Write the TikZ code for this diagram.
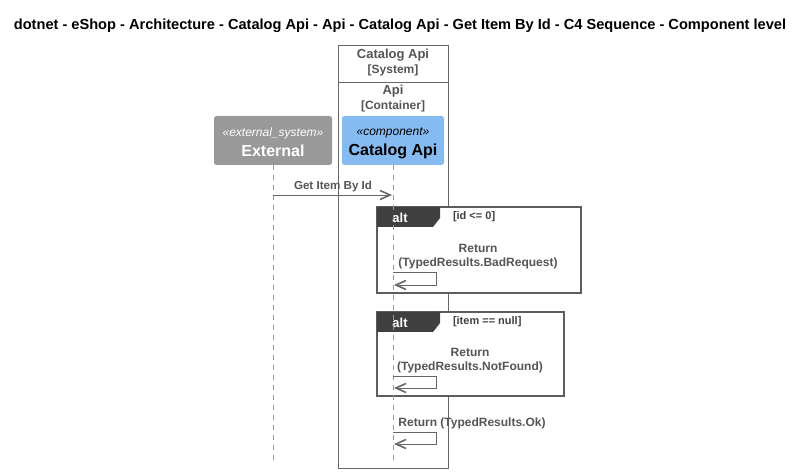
\documentclass[tikz,border=0pt]{standalone}
\usepackage{fontspec}
\setmainfont{Liberation Sans}
\usetikzlibrary{arrows.meta}
\definecolor{txtgray}{HTML}{555555}
\definecolor{linegray}{HTML}{666666}
\definecolor{boxgray}{HTML}{999999}
\definecolor{compblue}{HTML}{85BBF0}
\definecolor{tabdark}{HTML}{404040}
\tikzset{
  every node/.style={inner sep=0pt, outer sep=0pt},
  lbl/.style={text=txtgray, font=\fontsize{12}{14}\selectfont\bfseries, align=center},
  lifeline/.style={draw=boxgray, dash pattern=on 5pt off 5pt, line width=0.7pt},
  msg/.style={draw=linegray, line width=0.9pt, -{Straight Barb[length=10pt,width=9pt,line width=1.6pt]}},
  frame/.style={draw=tabdark!85, fill=white, line width=1.1pt},
  tabbox/.style={fill=tabdark, draw=none, anchor=north west, minimum width=56pt, minimum height=20pt},
  tabtext/.style={text=white, font=\fontsize{13}{15}\selectfont\bfseries},
  guard/.style={text=tabdark, font=\fontsize{11}{13}\selectfont\bfseries, anchor=west},
  participant/.style={rounded corners=2.5pt, draw=none, minimum height=49pt}
}
\begin{document}
\begin{tikzpicture}[x=1pt,y=-1pt]
\useasboundingbox (0,0) rectangle (804,473);
\fill[white] (0,0) rectangle (804,473);
% title
\node (title) at (400,26) {\fontsize{14.6}{16}\selectfont\bfseries dotnet - eShop - Architecture - Catalog Api - Api - Catalog Api - Get Item By Id - C4 Sequence - Component level};
% system boundary
\draw[draw=linegray, line width=0.8pt] (338,45) rectangle (448,468);
\draw[draw=linegray, line width=0.8pt] (338,82) -- (448,82);
\node[lbl, font=\fontsize{13}{15}\selectfont\bfseries] (sysname) at (393,55) {Catalog Api};
\node[lbl] (systype) at (393,70) {[System]};
\node[lbl, font=\fontsize{13}{15}\selectfont\bfseries] (contname) at (393,91) {Api};
\node[lbl] (conttype) at (393,106) {[Container]};
% participants
\node[participant, fill=boxgray, minimum width=118pt] (ext) at (273,140.5) {};
\node[text=white, font=\fontsize{12}{14}\selectfont\itshape] (extst) at (273,133) {«external\_system»};
\node[text=white, font=\fontsize{16}{18}\selectfont\bfseries] (extname) at (273,151) {External};
\node[participant, fill=compblue, minimum width=102pt] (cat) at (393,140.5) {};
\node[text=black, font=\fontsize{12}{14}\selectfont\itshape] (catst) at (393,133) {«component»};
\node[text=black, font=\fontsize{16}{18}\selectfont\bfseries] (catname) at (393,151) {Catalog Api};
% lifeline ends
\coordinate (extend) at (273,462);
\coordinate (catend) at (393,462);
\draw[lifeline] (ext.south) -- (extend);
% alt frame 1
\path[frame] (377,207) rectangle (581,293);
\node[tabbox] (tab1) at (377,207) {};
\fill[tabdark] (tab1.north east) -- ++(7,0) -- ++(0,11) -- (tab1.south east) -- cycle;
\node[tabtext] (alt1) at (400,217.5) {alt};
\node[guard] (g1) at (453,217) {[id <= 0]};
% alt frame 2
\path[frame] (377,312) rectangle (564,396);
\node[tabbox] (tab2) at (377,312) {};
\fill[tabdark] (tab2.north east) -- ++(7,0) -- ++(0,11) -- (tab2.south east) -- cycle;
\node[tabtext] (alt2) at (400,322.5) {alt};
\node[guard] (g2) at (453,322) {[item == null]};
% catalog lifeline
\draw[lifeline] (cat.south) -- (catend);
% message 1
\coordinate (m1a) at (273,195);
\coordinate (m1b) at (392,195);
\draw[msg] (m1a) -- (m1b);
\node[lbl, font=\fontsize{11.6}{14}\selectfont\bfseries] (m1l) at (333,187) {Get Item By Id};
% self message 1
\coordinate (s1a) at (393,272);
\coordinate (s1b) at (394,285);
\draw[msg] (s1a) -- (436,272) -- (436,285) -- (s1b);
\node[lbl] (s1l) at (478,256.5) {Return\\(TypedResults.BadRequest)};
% self message 2
\coordinate (s2a) at (393,376);
\coordinate (s2b) at (394,388);
\draw[msg] (s2a) -- (436,376) -- (436,388) -- (s2b);
\node[lbl] (s2l) at (470,360.5) {Return\\(TypedResults.NotFound)};
% self message 3
\coordinate (s3a) at (393,432);
\coordinate (s3b) at (394,444);
\draw[msg] (s3a) -- (436,432) -- (436,444) -- (s3b);
\node[lbl] (s3l) at (472,423) {Return (TypedResults.Ok)};
\end{tikzpicture}
\end{document}
